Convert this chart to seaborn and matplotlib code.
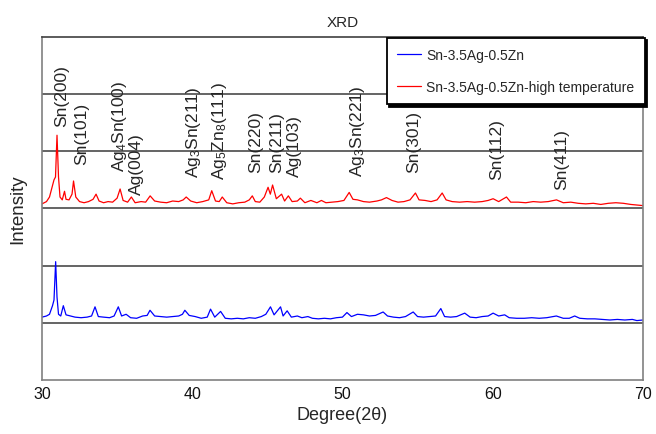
import numpy as np
import pandas as pd
import matplotlib
matplotlib.use("Agg")
import matplotlib.pyplot as plt
import seaborn as sns

# data (2theta in degrees, offset intensity in grid units)
deg_blue = [30.0, 30.3, 30.5, 30.7, 30.8, 30.91, 31.0, 31.1, 31.25, 31.42, 31.6, 31.9,
            32.2, 32.6, 33.0, 33.3, 33.53, 33.75, 34.1, 34.5, 34.8, 35.08, 35.3, 35.6,
            35.9, 36.3, 36.7, 37.0, 37.19, 37.5, 37.9, 38.3, 38.7, 39.1, 39.35, 39.51,
            39.8, 40.2, 40.6, 41.0, 41.22, 41.5, 41.89, 42.2, 42.6, 43.0, 43.4, 43.8,
            44.2, 44.6, 44.9, 45.21, 45.45, 45.88, 46.05, 46.32, 46.6, 47.0, 47.3, 47.7,
            48.0, 48.4, 48.8, 49.2, 49.6, 50.0, 50.3, 50.6, 51.0, 51.4, 51.8, 52.2,
            52.71, 53.0, 53.4, 53.8, 54.2, 54.71, 55.0, 55.4, 55.8, 56.2, 56.55, 56.8,
            57.2, 57.6, 58.14, 58.5, 58.9, 59.3, 59.7, 60.03, 60.4, 60.8, 61.1, 61.6,
            62.1, 62.6, 63.1, 63.6, 64.24, 64.7, 65.1, 65.46, 65.8, 66.3, 66.8, 67.3,
            67.8, 68.3, 68.8, 69.3, 69.6, 70.0]
int_blue = [1.10, 1.12, 1.15, 1.30, 1.40, 2.07, 1.45, 1.15, 1.12, 1.30, 1.14, 1.12,
            1.10, 1.09, 1.10, 1.12, 1.28, 1.11, 1.10, 1.09, 1.12, 1.28, 1.12, 1.15,
            1.09, 1.08, 1.12, 1.13, 1.22, 1.12, 1.11, 1.10, 1.11, 1.12, 1.15, 1.22,
            1.13, 1.11, 1.08, 1.10, 1.24, 1.10, 1.20, 1.08, 1.07, 1.08, 1.07, 1.09,
            1.08, 1.11, 1.15, 1.28, 1.14, 1.28, 1.12, 1.21, 1.10, 1.12, 1.09, 1.11,
            1.08, 1.07, 1.08, 1.07, 1.09, 1.10, 1.18, 1.11, 1.15, 1.14, 1.12, 1.13,
            1.19, 1.12, 1.10, 1.09, 1.11, 1.19, 1.11, 1.10, 1.11, 1.12, 1.25, 1.11,
            1.10, 1.11, 1.17, 1.10, 1.09, 1.11, 1.12, 1.17, 1.12, 1.14, 1.09, 1.08,
            1.08, 1.09, 1.08, 1.09, 1.12, 1.08, 1.08, 1.12, 1.08, 1.07, 1.07, 1.06,
            1.05, 1.06, 1.05, 1.06, 1.04, 1.05]

deg_red = [30.0, 30.3, 30.5, 30.7, 30.8, 30.9, 31.0, 31.1, 31.2, 31.35, 31.5, 31.6,
           31.8, 32.0, 32.1, 32.25, 32.5, 32.8, 33.1, 33.4, 33.6, 33.8, 34.1, 34.4,
           34.7, 35.0, 35.2, 35.4, 35.7, 35.95, 36.2, 36.6, 36.9, 37.2, 37.5, 37.9,
           38.3, 38.7, 39.1, 39.4, 39.6, 39.9, 40.3, 40.7, 41.1, 41.3, 41.55, 41.8,
           42.0, 42.3, 42.7, 43.1, 43.5, 43.8, 44.0, 44.2, 44.5, 44.8, 45.05, 45.2,
           45.35, 45.6, 45.95, 46.15, 46.4, 46.65, 47.0, 47.2, 47.5, 47.9, 48.3, 48.6,
           48.9, 49.3, 49.7, 50.1, 50.45, 50.7, 51.0, 51.4, 51.8, 52.3, 52.6, 52.93,
           53.3, 53.7, 54.1, 54.5, 54.86, 55.1, 55.5, 55.9, 56.3, 56.64, 56.9, 57.3,
           57.8, 58.3, 58.8, 59.3, 59.7, 60.03, 60.4, 60.92, 61.2, 61.7, 62.2, 62.7,
           63.2, 63.7, 64.25, 64.7, 65.2, 65.7, 66.2, 66.7, 67.2, 67.7, 68.2, 68.7,
           69.2, 69.6, 70.0]
int_red = [3.08, 3.12, 3.20, 3.40, 3.50, 3.55, 4.28, 3.55, 3.20, 3.15, 3.30, 3.16,
           3.15, 3.25, 3.48, 3.20, 3.12, 3.10, 3.12, 3.16, 3.25, 3.13, 3.10, 3.12,
           3.11, 3.18, 3.34, 3.14, 3.11, 3.20, 3.10, 3.12, 3.11, 3.22, 3.13, 3.11,
           3.10, 3.13, 3.12, 3.15, 3.20, 3.13, 3.10, 3.12, 3.15, 3.31, 3.13, 3.12,
           3.20, 3.10, 3.08, 3.10, 3.11, 3.15, 3.22, 3.12, 3.11, 3.20, 3.37, 3.25,
           3.41, 3.17, 3.25, 3.13, 3.22, 3.12, 3.13, 3.18, 3.10, 3.14, 3.10, 3.14,
           3.10, 3.11, 3.12, 3.14, 3.28, 3.16, 3.15, 3.12, 3.11, 3.13, 3.15, 3.19,
           3.14, 3.11, 3.12, 3.15, 3.27, 3.15, 3.14, 3.12, 3.15, 3.27, 3.15, 3.12,
           3.11, 3.12, 3.11, 3.12, 3.14, 3.17, 3.12, 3.20, 3.11, 3.11, 3.10, 3.12,
           3.11, 3.12, 3.15, 3.10, 3.11, 3.09, 3.08, 3.09, 3.07, 3.09, 3.10, 3.09,
           3.07, 3.06, 3.05]

series_names = ["Sn-3.5Ag-0.5Zn", "Sn-3.5Ag-0.5Zn-high temperature"]

peak_labels = ["Sn(200)", "Sn(101)", r"Ag$_4$Sn(100)", "Ag(004)", r"Ag$_3$Sn(211)",
               r"Ag$_5$Zn$_8$(111)", "Sn(220)", "Sn(211)", "Ag(103)", r"Ag$_3$Sn(221)",
               "Sn(301)", "Sn(112)", "Sn(411)"]
peak_deg = [31.31, 32.64, 35.19, 36.3, 40.07, 41.85, 44.24, 45.61, 46.83, 51.0,
            54.71, 60.26, 64.58]
peak_label_y = [4.45, 3.78, 3.66, 3.25, 3.55, 3.52, 3.63, 3.63, 3.57, 3.57,
                3.63, 3.52, 3.34]

df = pd.concat([
    pd.DataFrame({"deg": deg_blue, "intensity": int_blue, "sample": series_names[0]}),
    pd.DataFrame({"deg": deg_red, "intensity": int_red, "sample": series_names[1]}),
])

sns.set_theme(style="white")
plt.rcParams["font.family"] = ["Liberation Sans", "DejaVu Sans"]
plt.rcParams["mathtext.fontset"] = "custom"
plt.rcParams["mathtext.rm"] = "Liberation Sans"
plt.rcParams["mathtext.it"] = "Liberation Sans"

fig = plt.figure(figsize=(6.56, 4.35), dpi=100)
ax = fig.add_axes([0.064, 0.124, 0.916, 0.789])

sns.lineplot(data=df, x="deg", y="intensity", hue="sample", hue_order=series_names,
             palette={series_names[0]: "#0000ff", series_names[1]: "#ff0000"},
             estimator=None, sort=False, lw=0.9, ax=ax)

ax.set_xlim(30, 70)
ax.set_ylim(0, 6)
ax.set_xticks([30, 40, 50, 60, 70])
ax.set_yticks([1, 2, 3, 4, 5])
ax.set_yticklabels([])
ax.tick_params(axis="both", length=0)
ax.tick_params(axis="x", labelsize=11.5, pad=4, colors="#111111")
ax.yaxis.grid(True, color="#3a3a3a", lw=1.1)
ax.set_axisbelow(True)
for s in ax.spines.values():
    s.set_color("#808080")
    s.set_linewidth(1.2)
ax.spines["top"].set_color("#404040")

ax.set_title("XRD", fontsize=11, pad=8)
ax.set_xlabel("Degree(2θ)", fontsize=13, labelpad=4)
ax.set_ylabel("Intensity", fontsize=13.5, labelpad=8)

for lab, xd, yd in zip(peak_labels, peak_deg, peak_label_y):
    ax.text(xd, yd, lab, rotation=90, ha="center", va="bottom", fontsize=12.5)

leg = ax.legend(loc="upper right", bbox_to_anchor=(1.003, 0.998), borderaxespad=0,
                fontsize=10, frameon=True, fancybox=False,
                shadow={"color": "black", "alpha": 1.0},
                handlelength=1.75, handletextpad=0.35, labelspacing=1.3,
                borderpad=0.75)
leg.get_frame().set_edgecolor("black")
leg.get_frame().set_linewidth(1.3)
leg.get_frame().set_alpha(1)
for line in leg.get_lines():
    line.set_linewidth(0.9)

fig.savefig("out.png", dpi=100)
